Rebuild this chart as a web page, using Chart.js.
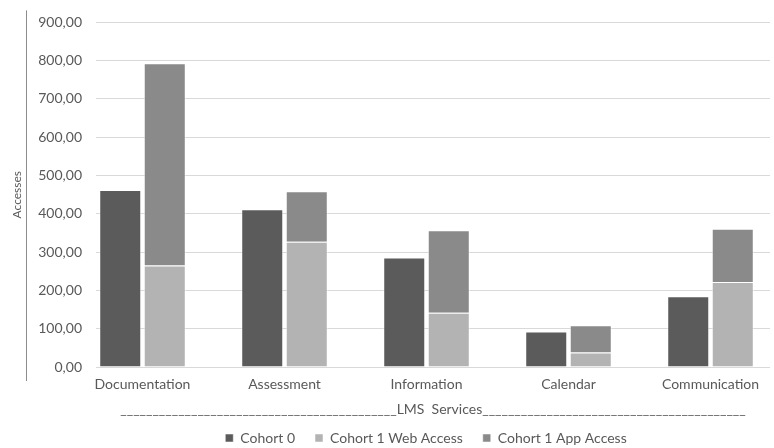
<!DOCTYPE html>
<html><head><meta charset="utf-8">
<script src="https://cdn.jsdelivr.net/npm/chart.js@4/dist/chart.umd.min.js"></script>
<style>html,body{margin:0;padding:0;background:#fff}#wrap{width:774px;height:448px;position:relative}</style>
</head><body><div id="wrap"><canvas id="c"></canvas></div>
<script>
const categories = ['Documentation', 'Assessment', 'Information', 'Calendar', 'Communication'];
const cohort0 = [462, 412, 286, 93, 185];
const cohort1Web = [265, 327, 142, 38, 222];
const cohort1App = [528, 132, 215, 71, 139];
const yTickValues = [0, 100, 200, 300, 400, 500, 600, 700, 800, 900];
const seriesNames = ['Cohort 0', 'Cohort 1 Web Access', 'Cohort 1 App Access'];
const xTitle = '___________________________________________LMS  Services_________________________________________';
const yTitle = 'Accesses';

const TXT = '#595959';
Chart.defaults.font.family = 'Lato, "Liberation Sans", sans-serif';
Chart.defaults.color = TXT;

const pts = arr => arr.map((v, i) => ({x: i, y: v}));

const LEGEND_H = 25, LEGEND_TOP_OFF = 8, LEGEND_SHIFT = 36;
const legendSpacing = {
  id: 'legendSpacing',
  beforeInit(chart) {
    const lg = chart.legend;
    if (!lg) return;
    const fit = lg.fit.bind(lg);
    lg.fit = function () { fit(); this.height = LEGEND_H; };
    const draw = lg.draw.bind(lg);
    lg.draw = function () {
      const t = this.top, l = this.left, r = this.right;
      this.top = t - (this.options.labels.padding - LEGEND_TOP_OFF);
      this.left = l + LEGEND_SHIFT;
      this.right = r + LEGEND_SHIFT;
      draw();
      this.top = t; this.left = l; this.right = r;
    };
  }
};
const yTitleLine = {
  id: 'yTitleLine',
  afterDraw(chart) {
    const {ctx, chartArea} = chart;
    ctx.save();
    ctx.strokeStyle = '#8c8c8c';
    ctx.lineWidth = 1;
    ctx.beginPath();
    ctx.moveTo(26.5, chartArea.top - 12);
    ctx.lineTo(26.5, chartArea.bottom + 14);
    ctx.stroke();
    ctx.restore();
  }
};

new Chart(document.getElementById('c'), {
  type: 'bar',
  data: {
    datasets: [
      {label: seriesNames[0], data: pts(cohort0), stack: 'c0', backgroundColor: '#5b5b5b', borderColor: 'rgba(255,255,255,0.5)', borderWidth: 1},
      {label: seriesNames[1], data: pts(cohort1Web), stack: 'c1', backgroundColor: '#b3b3b3', borderColor: 'rgba(255,255,255,0.5)', borderWidth: 1},
      {label: seriesNames[2], data: pts(cohort1App), stack: 'c1', backgroundColor: '#8a8a8a', borderColor: 'rgba(255,255,255,0.5)', borderWidth: 1}
    ]
  },
  options: {
    responsive: true,
    maintainAspectRatio: false,
    animation: false,
    categoryPercentage: 0.627,
    barPercentage: 0.944,
    layout: {padding: {left: 10, right: 4, top: 22, bottom: 0}},
    plugins: {
      tooltip: {enabled: false},
      legend: {
        position: 'bottom',
        labels: {boxWidth: 8, boxHeight: 8, padding: 20, color: TXT, font: {size: 14}}
      }
    },
    scales: {
      x: {
        type: 'linear',
        stacked: true,
        offset: false,
        min: -0.3275,
        max: 4.419,
        afterBuildTicks: s => { s.ticks = categories.map((c, i) => ({value: i})); },
        afterFit: s => { s.height = 56; },
        grid: {display: false, drawTicks: false},
        border: {display: false},
        ticks: {
          padding: 9,
          autoSkip: false,
          maxRotation: 0,
          color: TXT,
          font: {size: 14},
          callback: v => categories[v] ?? ''
        },
        title: {display: true, text: xTitle, color: TXT, font: {size: 14}, padding: {top: 0, bottom: 5}}
      },
      y: {
        stacked: true,
        min: 0,
        max: 900,
        afterBuildTicks: s => { s.ticks = yTickValues.map(v => ({value: v})); },
        afterFit: s => { s.width = 86; },
        grid: {color: '#d9d9d9', lineWidth: 1, drawTicks: false},
        border: {display: false},
        ticks: {
          padding: 14,
          color: TXT,
          font: {size: 14},
          callback: v => v.toFixed(2).replace('.', ',')
        },
        title: {display: true, text: yTitle, color: TXT, font: {size: 12}, padding: {top: 0, bottom: 0}}
      }
    }
  },
  plugins: [legendSpacing, yTitleLine]
});
</script>
</body></html>
